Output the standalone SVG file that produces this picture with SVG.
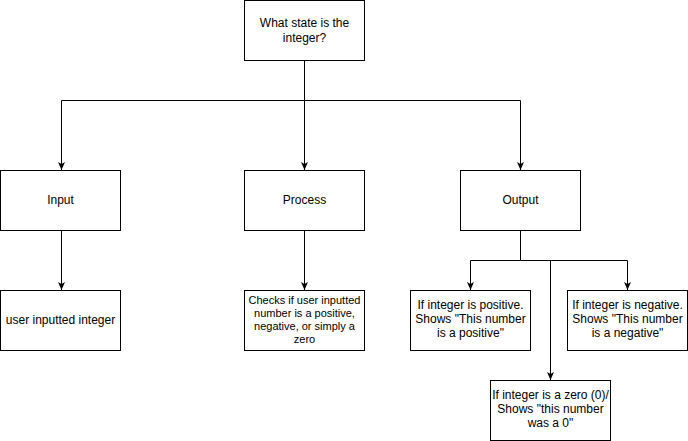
<svg xmlns="http://www.w3.org/2000/svg" width="688" height="441" viewBox="0 0 688 441">
<style>
.box{fill:#fff;stroke:#000;stroke-width:1}
.t{font-family:"Liberation Sans",Arial,sans-serif;font-size:12px;fill:#000;text-anchor:middle}
.s{font-size:11px}
.c{fill:none;stroke:#000;stroke-width:1}
</style>
<defs>
<marker id="a" viewBox="0 0 8 8" refX="8" refY="4" markerWidth="8" markerHeight="8" markerUnits="userSpaceOnUse" orient="auto">
<path d="M0,0.5 L8,4 L0,7.5 L2,4 Z" fill="#000"/>
</marker>
</defs>
<rect width="688" height="441" fill="#fff"/>
<g id="connectors">
<path class="c" d="M304.5,60 V100.5" />
<path class="c" d="M304.5,100.5 V170" marker-end="url(#a)"/>
<path class="c" d="M304.5,100.5 H61.5 V170" marker-end="url(#a)"/>
<path class="c" d="M304.5,100.5 H520.5 V170" marker-end="url(#a)"/>
<path class="c" d="M61.5,230 V290" marker-end="url(#a)"/>
<path class="c" d="M304.5,230 V290" marker-end="url(#a)"/>
<path class="c" d="M520.5,230 V260.5 H470.5 V290" marker-end="url(#a)"/>
<path class="c" d="M520.5,260.5 H627.5 V290" marker-end="url(#a)"/>
<path class="c" d="M550.5,260.5 V380" marker-end="url(#a)"/>
</g>
<g id="top">
<rect class="box" x="244.5" y="0.5" width="120" height="60"/>
<text class="t" x="304.5" y="27">What state is the</text>
<text class="t" x="304.5" y="42">integer?</text>
</g>
<g id="input">
<rect class="box" x="0.5" y="170.5" width="120" height="60"/>
<text class="t" x="60.5" y="204">Input</text>
</g>
<g id="process">
<rect class="box" x="244.5" y="170.5" width="120" height="60"/>
<text class="t" x="304.5" y="204">Process</text>
</g>
<g id="output">
<rect class="box" x="460.5" y="170.5" width="120" height="60"/>
<text class="t" x="520.5" y="204">Output</text>
</g>
<g id="userint">
<rect class="box" x="0.5" y="290.5" width="120" height="60"/>
<text class="t" x="60.5" y="324">user inputted integer</text>
</g>
<g id="checks">
<rect class="box" x="244.5" y="290.5" width="120" height="60"/>
<text class="t s" x="304.5" y="304">Checks if user inputted</text>
<text class="t s" x="304.5" y="317">number is a positive,</text>
<text class="t s" x="304.5" y="330">negative, or simply a</text>
<text class="t s" x="304.5" y="343">zero</text>
</g>
<g id="positive">
<rect class="box" x="410.5" y="290.5" width="120" height="60"/>
<text class="t" x="470.5" y="309">If integer is positive.</text>
<text class="t" x="470.5" y="323">Shows "This number</text>
<text class="t" x="470.5" y="337">is a positive"</text>
</g>
<g id="negative">
<rect class="box" x="567.5" y="290.5" width="120" height="60"/>
<text class="t" x="627.5" y="309">If integer is negative.</text>
<text class="t" x="627.5" y="323">Shows "This number</text>
<text class="t" x="627.5" y="337">is a negative"</text>
</g>
<g id="zero">
<rect class="box" x="490.5" y="380.5" width="120" height="60"/>
<text class="t" x="550.5" y="399">If integer is a zero (0)/</text>
<text class="t" x="550.5" y="413">Shows "this number</text>
<text class="t" x="550.5" y="427">was a 0"</text>
</g>
</svg>
